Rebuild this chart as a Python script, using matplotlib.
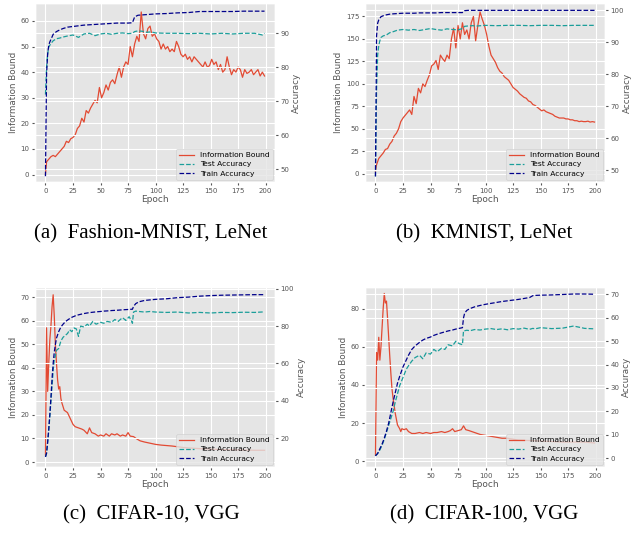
import matplotlib
matplotlib.use("Agg")
import matplotlib.pyplot as plt

plt.style.use("ggplot")

# ---------------- (a) Fashion-MNIST, LeNet ----------------
fm_ib_ep = [0, 1] + list(range(3, 200, 2))
fm_ib = [0, 5, 6, 7, 7.5, 7, 8, 9, 10, 11, 13, 12.5, 14, 14.5, 15.5, 18, 19, 22, 20.5, 25,
         24, 26, 27.5, 29, 28, 34, 30, 32, 35, 33, 36, 37, 35.5, 39, 42, 38, 42, 44, 43, 50,
         46, 51, 54, 52, 63.5, 55, 53, 57, 58, 54, 55, 53, 52, 49, 51, 49, 50, 48, 49, 48,
         52, 50, 47, 46, 47, 45, 46, 44, 46, 45, 44, 43, 42, 44, 42, 42.5, 45, 43, 44, 41,
         43, 40, 41, 46, 42, 39, 41, 40, 42, 41, 38, 41, 39.5, 40, 41, 39, 40, 41, 38.5, 40,
         38.5]
fm_acc_ep = [0, 1, 2, 3, 4, 5, 7, 10, 13, 16, 20, 25, 30, 35, 40, 45, 50, 55, 60, 65, 70, 75,
             79, 81, 84, 88, 92, 96, 100, 110, 120, 130, 140, 150, 160, 170, 180, 190, 197, 199]
fm_test = [72, 80, 84, 86, 86.5, 87, 87.8, 88.4, 88.6, 88.9, 89.2, 89.5, 88.8, 89.8, 90, 89.3,
           89.8, 90, 89.7, 90, 90.1, 89.9, 90, 90.5, 90.7, 90.6, 90.3, 90.4, 90.1, 90, 90, 89.9,
           90, 89.8, 90, 89.8, 90, 90, 89.5, 90]
fm_train = [48, 78, 84, 86.5, 87.5, 88.2, 89.7, 90.5, 91, 91.4, 91.8, 92, 92.2, 92.4, 92.5, 92.6,
            92.7, 92.8, 92.9, 93, 93, 93, 93.1, 94.8, 95.3, 95.4, 95.5, 95.6, 95.7, 95.8, 96, 96.1,
            96.4, 96.4, 96.4, 96.4, 96.5, 96.5, 96.5, 96.5]

# ---------------- (b) KMNIST, LeNet ----------------
km_ib_ep = [0, 1] + list(range(3, 200, 2))
km_ib = [3, 10, 17, 20, 23, 27, 28, 33, 36, 42, 45, 50, 58, 62, 65, 68, 71, 66, 86, 78,
         95, 90, 100, 97, 104, 110, 120, 122, 126, 116, 132, 128, 125, 132, 128, 150, 162, 140, 165, 150,
         168, 155, 160, 150, 168, 175, 148, 165, 180, 172, 165, 155, 142, 132, 128, 124, 118, 114, 112, 108,
         106, 104, 100, 96, 94, 92, 89, 87, 85, 84, 81, 80, 77, 76, 74, 72, 70, 71, 69, 68,
         67, 66, 64, 63, 62, 62, 62, 61, 61, 60, 60, 59, 59, 58, 58.5, 58, 58, 58.5, 57.5, 58,
         57.5]
km_acc_ep = [0, 1, 2, 3, 4, 5, 7, 10, 13, 16, 20, 25, 30, 35, 40, 45, 50, 55, 60, 65, 70, 75,
             79, 81, 84, 88, 92, 96, 100, 110, 120, 130, 140, 150, 160, 170, 180, 190, 199]
km_test = [48, 75, 86, 89, 90.5, 91.5, 92, 92.3, 93, 93.3, 93.8, 94, 93.8, 94, 93.7, 94, 94.3,
           94, 93.8, 94.2, 94, 93.9, 94.3, 95, 95.1, 95.2, 95.1, 95.2, 95.3, 95.2, 95.3, 95.3,
           95.2, 95.3, 95.3, 95.2, 95.3, 95.3, 95.3]
km_train = [48, 92, 96, 97, 97.5, 98, 98.3, 98.6, 98.8, 98.9, 99, 99.1, 99.1, 99.1, 99.2, 99.2,
            99.2, 99.2, 99.3, 99.3, 99.3, 99.3, 99.3, 99.9, 100, 100, 100, 100, 100, 100, 100, 100,
            100, 100, 100, 100, 100, 100, 100]

# ---------------- (c) CIFAR-10, VGG ----------------
c10_ib_ep = [0, 1, 2, 3, 4, 5, 6, 7, 8, 9, 10, 11, 12, 13, 14, 15, 17, 20, 22, 25, 27, 30, 33, 35,
             38, 40, 42, 45, 48, 50, 53, 55, 58, 60, 63, 65, 68, 70, 73, 75, 77, 80, 83, 86, 90,
             95, 100, 105, 110, 115, 120, 125, 130, 140, 150, 160, 170, 180, 190, 199]
c10_ib = [3, 57, 30, 42, 52, 58, 66, 71, 62, 50, 42, 35, 31, 32, 27, 25, 22, 21, 19, 16, 15, 14.5,
          14, 13.5, 12, 14.5, 12.5, 12, 11, 11.5, 11, 12, 11, 12, 11.5, 12, 11, 11.5, 11, 12.5,
          11, 10.8, 9.8, 9, 8.5, 8, 7.5, 7.2, 7, 6.8, 6.5, 6.2, 6, 5.7, 5.5, 5.3, 5.2, 5.1, 5, 5]
c10_acc_ep = [0, 1, 2, 3, 4, 5, 6, 7, 8, 9, 10, 12, 14, 16, 18, 20, 22, 24, 26, 28, 30, 32, 35,
              38, 40, 43, 46, 50, 53, 56, 60, 63, 66, 70, 73, 76, 78, 79, 80, 82, 85, 90, 95, 100,
              110, 120, 130, 140, 150, 160, 170, 180, 190, 199]
c10_test = [10, 12, 18, 24, 32, 40, 48, 56, 62, 64, 67, 68, 72, 74, 75, 76, 78, 77, 79, 78.5,
            74.5, 80, 79.5, 81, 80, 82.5, 81, 82, 81.5, 82.5, 82, 83.5, 82.5, 84.5, 83, 85, 83,
            81.5, 87.5, 88, 87.8, 87.5, 87.8, 87.5, 87.3, 87.5, 87, 87.3, 87, 87.3, 87.2, 87.4,
            87.3, 87.6]
c10_train = [10, 12, 18, 25, 33, 42, 52, 60, 66, 70, 73.5, 77, 79.5, 81, 82.3, 83.2, 84, 84.7,
             85.2, 85.7, 86, 86.3, 86.7, 87, 87.2, 87.4, 87.6, 87.8, 88, 88.1, 88.3, 88.4, 88.5,
             88.7, 88.8, 88.9, 89, 89, 90.5, 92, 93, 93.7, 94, 94.3, 94.6, 95.2, 95.5, 96, 96.3,
             96.5, 96.6, 96.7, 96.8, 96.8]

# ---------------- (d) CIFAR-100, VGG ----------------
c100_ib_ep = [0, 1, 2, 3, 4, 5, 6, 7, 8, 9, 10, 11, 12, 13, 14, 15, 16, 18, 20, 22, 23, 24, 26,
              28, 30, 33, 36, 40, 43, 46, 50, 53, 56, 60, 63, 66, 68, 70, 72, 75, 78, 80, 82, 85,
              90, 95, 100, 105, 110, 115, 120, 125, 130, 140, 150, 160, 170, 180, 190, 199]
c100_ib = [3, 57, 53, 65, 53, 60, 70, 80, 88, 83, 84, 75, 65, 55, 46, 38, 33, 25, 19, 17, 15.5,
           17, 16.5, 17, 15.5, 14.5, 14.5, 15, 14.5, 15, 14.5, 15, 15, 15.5, 15, 15.5, 16, 17,
           15.5, 16, 16.5, 18.5, 16.5, 16, 15, 14, 13.5, 13, 12.5, 12, 12, 11.5, 11, 10.8, 10.5,
           10.3, 10, 10, 10, 9.5]
c100_acc_ep = [0, 2, 4, 6, 8, 10, 12, 14, 16, 18, 20, 22, 25, 28, 30, 33, 36, 40, 43, 46, 50, 53,
               56, 60, 63, 66, 70, 73, 76, 79, 80, 81, 83, 86, 90, 95, 100, 105, 110, 115, 120,
               125, 130, 135, 140, 143, 145, 150, 160, 170, 180, 190, 199]
c100_test = [1, 2, 3.5, 5.5, 8, 11, 14, 17, 20, 24, 27.5, 31, 34.5, 38, 39.5, 41.5, 43, 44, 42.5,
             45, 44.5, 46.5, 45.5, 47, 46.5, 48.5, 48, 50, 49, 48.5, 54.5, 54.5, 54.7, 54.5, 55,
             54.8, 55.2, 55.4, 55, 55.3, 54.9, 55.4, 55.2, 55.6, 55.1, 55.5, 55.3, 55.8, 55.4,
             55.6, 56.5, 55.5, 55.3]
c100_train = [1, 2, 4, 6, 8.5, 11.5, 15, 19.5, 24, 28, 32, 35, 39, 42, 44, 46.5, 48, 49.5, 50.5,
              51.2, 51.8, 52.5, 53, 53.6, 54, 54.4, 54.8, 55.2, 55.5, 55.8, 60, 62, 63.2, 64, 64.7,
              65.3, 65.8, 66.2, 66.6, 67, 67.3, 67.6, 67.9, 68.3, 68.7, 69.5, 69.6, 69.7, 69.8, 70,
              70.2, 70.2, 70.1]

captions = ["(a)  Fashion-MNIST, LeNet", "(b)  KMNIST, LeNet",
            "(c)  CIFAR-10, VGG", "(d)  CIFAR-100, VGG"]

panels = [
    (fm_ib_ep, fm_ib, fm_acc_ep, fm_test, fm_train, (-2.9, 67), (46.3, 98.9)),
    (km_ib_ep, km_ib, km_acc_ep, km_test, km_train, (-9.2, 190), (46.25, 102.3)),
    (c10_ib_ep, c10_ib, c10_acc_ep, c10_test, c10_train, (-2.1, 74.3), (4.6, 100.9)),
    (c100_ib_ep, c100_ib, c100_acc_ep, c100_test, c100_train, (-3.1, 91.4), (-3.8, 73.2)),
]

W, H = 633, 534
fig = plt.figure(figsize=(W / 100, H / 100), dpi=100)
fig.patch.set_facecolor("white")

boxes = [(35, 3, 275, 182), (365, 3, 605, 182), (35, 287, 275, 467), (365, 287, 605, 467)]
cap_base = [238, 519]
cap_x = [151, 484]

RED = "#E24A33"
TEAL = "#1b9e9a"
NAVY = "#00008B"

for i, (box, p) in enumerate(zip(boxes, panels)):
    x0, y0, x1, y1 = box
    ax = fig.add_axes([x0 / W, 1 - y1 / H, (x1 - x0) / W, (y1 - y0) / H])
    ib_ep, ib, acc_ep, test, train, ylim_l, ylim_r = p
    l1, = ax.plot(ib_ep, ib, color=RED, lw=0.9, label="Information Bound")
    ax.set_xlim(-9.5, 208.5)
    ax.set_ylim(*ylim_l)
    ax.set_xticks([0, 25, 50, 75, 100, 125, 150, 175, 200])
    ax.set_xlabel("Epoch", fontsize=6.5, labelpad=1)
    ax.set_ylabel("Information Bound", fontsize=6.3, labelpad=2)
    ax.tick_params(labelsize=5, length=2, pad=2)
    ax2 = ax.twinx()
    l2, = ax2.plot(acc_ep, test, color=TEAL, lw=0.9, ls="--", label="Test Accuracy")
    l3, = ax2.plot(acc_ep, train, color=NAVY, lw=0.9, ls="--", label="Train Accuracy")
    ax2.set_ylim(*ylim_r)
    ax2.set_ylabel("Accuracy", fontsize=6.3, labelpad=2)
    if i == 1:
        ax2.yaxis.set_label_coords((623 - x0) / (x1 - x0), 0.5)
    ax2.tick_params(labelsize=5, length=2, pad=2)
    ax2.legend(handles=[l1, l2, l3], loc="lower right", fontsize=5.4,
               borderaxespad=0.3, handlelength=2.0, labelspacing=0.4,
               borderpad=0.4, framealpha=0.8)
    fig.text(cap_x[i % 2] / W, 1 - cap_base[i // 2] / H, captions[i], ha="center",
             va="baseline", fontsize=15, family="Liberation Serif", color="black")

fig.savefig("out.png", dpi=100)
